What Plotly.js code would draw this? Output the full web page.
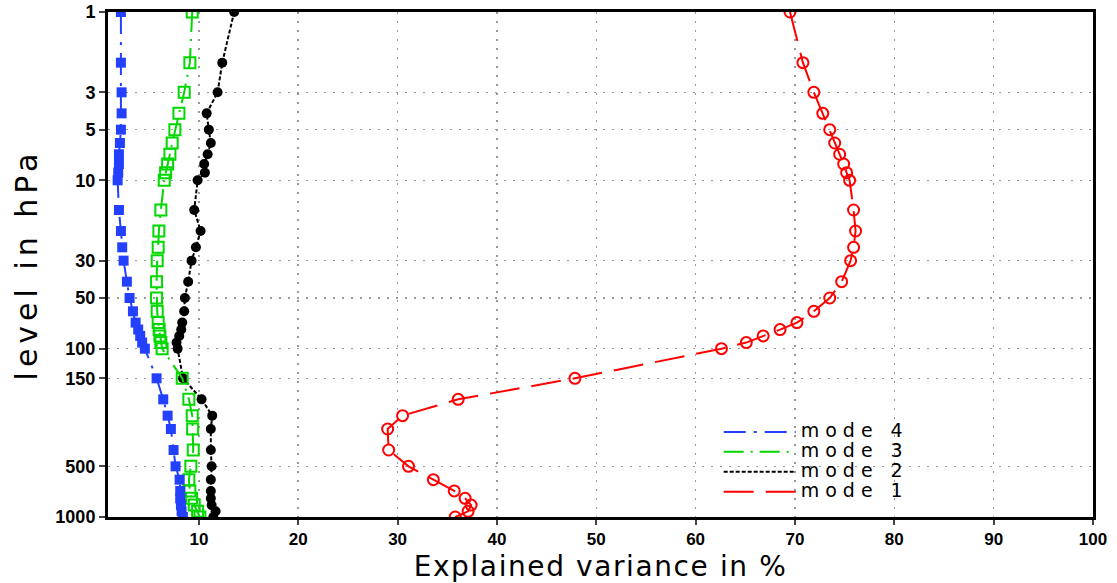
<!DOCTYPE html>
<html><head><meta charset="utf-8">
<script src="https://cdn.plot.ly/plotly-3.0.1.min.js"></script>
<style>html,body{margin:0;padding:0;background:#fff}#chart{width:1117px;height:583px}</style>
</head><body><div id="chart"></div>
<script>
// Pressure levels (hPa)
const levels = [1,2,3,4,5,6,7,8,9,10,15,20,25,30,40,50,60,70,77,84,92,100,150,200,250,300,400,500,600,700,775,850,925,1000];
// Explained variance (%) per mode
const mode1 = [69.5,70.8,71.9,72.8,73.5,74.0,74.5,74.9,75.2,75.5,75.9,76.1,75.9,75.6,74.7,73.5,71.9,70.2,68.5,66.8,65.1,62.6,47.85,36.1,30.5,29.0,29.1,31.1,33.6,35.7,36.8,37.4,37.1,35.8];
const mode2 = [13.55,12.35,11.88,10.78,11.0,11.2,10.88,10.53,10.6,9.87,9.53,10.17,9.7,9.26,8.92,8.59,8.52,8.32,8.22,8.02,7.75,7.86,8.4,10.27,11.34,11.2,11.2,11.28,11.2,11.2,11.2,11.28,11.68,11.45];
const mode3 = [9.33,9.09,8.52,7.99,7.58,7.31,7.08,6.85,6.65,6.51,6.17,5.97,5.9,5.8,5.74,5.74,5.8,5.9,6.0,6.07,6.17,6.3,8.32,8.99,9.33,9.37,9.43,9.19,8.99,9.09,9.26,9.53,9.87,10.1];
const mode4 = [2.15,2.15,2.22,2.22,2.15,2.05,1.95,1.95,1.88,1.82,1.95,2.15,2.28,2.42,2.75,3.02,3.36,3.63,3.89,4.09,4.29,4.56,5.74,6.41,6.85,7.18,7.45,7.65,8.06,8.12,8.12,8.19,8.26,8.39];
const seriesNames = ['mode 1','mode 2','mode 3','mode 4'];
const yTickVals = [1,3,5,10,30,50,100,150,500,1000];
const yTickText = ['1','3','5','10','30','50','100','150','500','1000'];
const xTickVals = [10,20,30,40,50,60,70,80,90,100];

const styles = [
  {color:'#ff0000', dash:'30px,12px', symbol:'circle-open', size:11, mline:2},
  {color:'#000000', dash:'4px,2px', symbol:'circle', size:10, mline:0},
  {color:'#00d800', dash:'20px,7px,2px,7px', symbol:'square-open', size:11, mline:2},
  {color:'#2440ff', dash:'22px,8px,3px,8px', symbol:'square', size:10, mline:0}
];
const values = [mode1, mode2, mode3, mode4];

const traces = [];
values.forEach((v,i)=>{
  const s = styles[i];
  traces.push({
    x: v, y: levels, type:'scatter', mode:'lines+markers', showlegend:false,
    name: seriesNames[i],
    line:{color:s.color, width:2, dash:s.dash},
    marker:{symbol:s.symbol, size:s.size, color:s.color, line:{color:s.color, width:s.mline}}
  });
});
// legend entries (lines only), listed mode 4 .. mode 1
[3,2,1,0].forEach(i=>{
  const s = styles[i];
  traces.push({x:[null], y:[null], type:'scatter', mode:'lines', name:seriesNames[i],
    line:{color:s.color, width:2, dash:s.dash}});
});

const layout = {
  width:1117, height:583,
  margin:{l:108, r:24, t:12, b:66},
  paper_bgcolor:'#fff', plot_bgcolor:'#fff',
  font:{family:'Liberation Sans, Arial, sans-serif', color:'#000'},
  showlegend:true,
  legend:{x:0.62, xanchor:'left', y:0.198, yanchor:'top', bgcolor:'rgba(0,0,0,0)',
    font:{family:'DejaVu Sans', size:13, color:'#000'}, itemwidth:72, tracegroupgap:0},
  xaxis:{range:[0.85,100], tickvals:xTickVals, ticks:'outside', ticklen:5, tickwidth:2,
    tickfont:{family:'Liberation Sans', size:17, weight:'bold'},
    showline:true, linewidth:3, linecolor:'#000', mirror:true,
    showgrid:true, gridcolor:'#999', gridwidth:1.5, griddash:'2px,7px', zeroline:false,
    title:{text:'Explained variance in %', font:{family:'DejaVu Sans', size:28}, standoff:10}},
  yaxis:{type:'log', range:[3,0], tickvals:yTickVals, ticktext:yTickText, ticks:'outside', ticklen:6, tickwidth:2,
    tickfont:{family:'Liberation Sans', size:18, weight:'bold'},
    showline:true, linewidth:3, linecolor:'#000', mirror:true,
    showgrid:true, gridcolor:'#999', gridwidth:1.5, griddash:'2px,7px', zeroline:false,
    title:{text:'level in hPa', font:{family:'DejaVu Sans', size:30}, standoff:9}}
};

Plotly.newPlot('chart', traces, layout, {staticPlot:true, displayModeBar:false}).then(gd=>{
  gd.querySelectorAll('.legend [clip-path]').forEach(e=>e.removeAttribute('clip-path'));
  gd.querySelectorAll('.legend').forEach(e=>{e.style.overflow='visible';});
  gd.querySelectorAll('.legendtext').forEach(t=>{t.style.fontSize='19px'; t.style.letterSpacing='6px';});
  gd.querySelectorAll('.g-xtitle text').forEach(t=>{t.style.letterSpacing='1.6px';});
  gd.querySelectorAll('.g-ytitle text').forEach(t=>{t.style.letterSpacing='5px';});
});
</script>
</body></html>
